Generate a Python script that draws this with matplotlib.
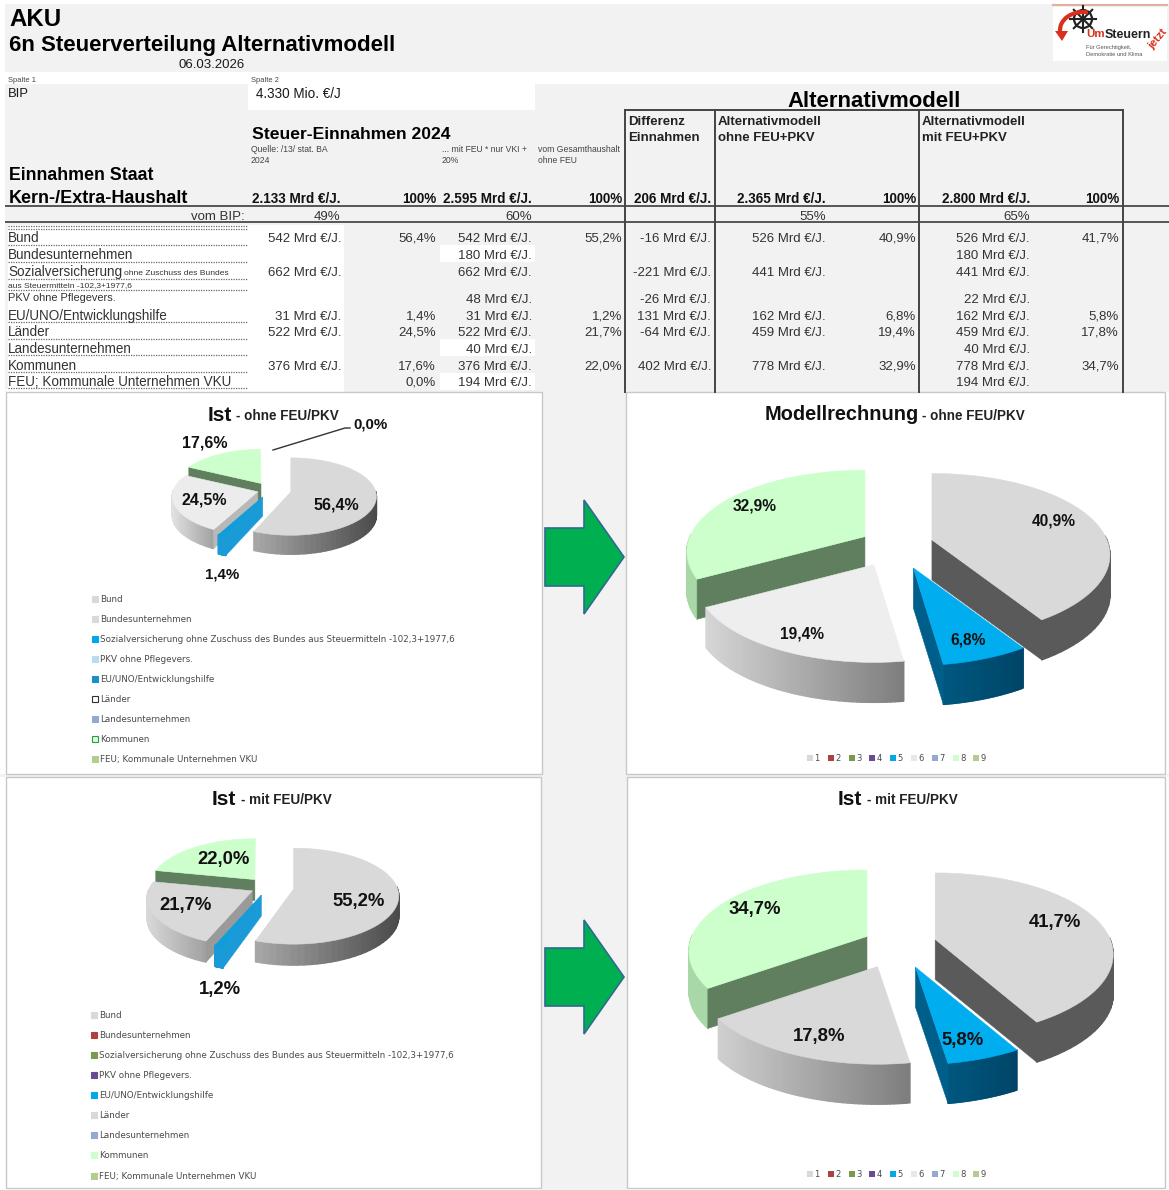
import numpy as np
import matplotlib
matplotlib.use("Agg")
import matplotlib.pyplot as plt
from matplotlib.colors import to_rgb
from matplotlib.patches import Rectangle, Polygon, Circle, Arc
from matplotlib.collections import PolyCollection

# table data
ROW_LABELS = ["Bund", "Bundesunternehmen", "Sozialversicherung", "PKV ohne Pflegevers.",
              "EU/UNO/Entwicklungshilfe", "Länder", "Landesunternehmen", "Kommunen",
              "FEU; Kommunale Unternehmen VKU"]
IST_MRD = ["542 Mrd €/J.", "", "662 Mrd €/J.", "", "31 Mrd €/J.", "522 Mrd €/J.", "", "376 Mrd €/J.", ""]
IST_PCT = ["56,4%", "", "", "", "1,4%", "24,5%", "", "17,6%", "0,0%"]
FEU_MRD = ["542 Mrd €/J.", "180 Mrd €/J.", "662 Mrd €/J.", "48 Mrd €/J.", "31 Mrd €/J.",
           "522 Mrd €/J.", "40 Mrd €/J.", "376 Mrd €/J.", "194 Mrd €/J."]
FEU_PCT = ["55,2%", "", "", "", "1,2%", "21,7%", "", "22,0%", ""]
DIFF_MRD = ["-16 Mrd €/J.", "", "-221 Mrd €/J.", "-26 Mrd €/J.", "131 Mrd €/J.",
            "-64 Mrd €/J.", "", "402 Mrd €/J.", ""]
ALT1_MRD = ["526 Mrd €/J.", "", "441 Mrd €/J.", "", "162 Mrd €/J.", "459 Mrd €/J.", "", "778 Mrd €/J.", ""]
ALT1_PCT = ["40,9%", "", "", "", "6,8%", "19,4%", "", "32,9%", ""]
ALT2_MRD = ["526 Mrd €/J.", "180 Mrd €/J.", "441 Mrd €/J.", "22 Mrd €/J.", "162 Mrd €/J.",
            "459 Mrd €/J.", "40 Mrd €/J.", "778 Mrd €/J.", "194 Mrd €/J."]
ALT2_PCT = ["41,7%", "", "", "", "5,8%", "17,8%", "", "34,7%", ""]

# pie shares, clockwise from 12 o'clock
PIE_NAMES = ["Bund", "EU", "Länder", "Kommunen"]
IST_OHNE = [56.4, 1.4, 24.5, 17.6]
MODELL_OHNE = [40.9, 6.8, 19.4, 32.9]
IST_MIT = [55.2, 1.2, 21.7, 22.0]
MODELL_MIT = [41.7, 5.8, 17.8, 34.7]

LEGEND_NAMES = ["Bund", "Bundesunternehmen",
                "Sozialversicherung ohne Zuschuss des Bundes aus Steuermitteln -102,3+1977,6",
                "PKV ohne Pflegevers.", "EU/UNO/Entwicklungshilfe", "Länder",
                "Landesunternehmen", "Kommunen", "FEU; Kommunale Unternehmen VKU"]
LEGEND_NUMS = ["1", "2", "3", "4", "5", "6", "7", "8", "9"]

GRAY = "#f2f2f2"
SANS = "Liberation Sans"

W, H = 1169, 1190
fig = plt.figure(figsize=(W / 100, H / 100), dpi=100, facecolor="white")
ax = fig.add_axes([0, 0, 1, 1])
ax.set_xlim(0, W)
ax.set_ylim(H, 0)
ax.axis("off")


def txt(x, y, s, size=13, bold=False, ha="left", color="#1a1a1a", family=SANS, zorder=8, **kw):
    # y is the middle of the capitals, size is in pixels
    return ax.text(x, y + size * 0.36, s, fontsize=size * 0.72, fontweight="bold" if bold else "normal",
                   ha=ha, va="baseline", color=color, family=family, zorder=zorder, **kw)


def box(x0, y0, x1, y1, color, edge="none", lw=0, zorder=1):
    ax.add_patch(Rectangle((x0, y0), x1 - x0, y1 - y0, facecolor=color, edgecolor=edge, lw=lw, zorder=zorder))


def pie3d(shares, names, cx, cy, R, ry, depth, explode, styles, persp=0.14):
    def rim(a):
        u, v = np.sin(a), np.cos(a)
        f = 1 - persp * v
        return R * u * f, -ry * v * f

    starts = np.cumsum([0] + list(shares[:-1])) * 3.6
    order = sorted(range(len(shares)), key=lambda i: -np.cos(np.radians(starts[i] + shares[i] * 1.8)))
    for i in order:
        a0, a1 = np.radians(starts[i]), np.radians(starts[i] + shares[i] * 3.6)
        mid = (a0 + a1) / 2
        ox = cx + explode[i] * R * np.sin(mid)
        oy = cy - explode[i] * ry * np.cos(mid)
        st = styles[names[i]]
        ang = np.linspace(a0, a1, 60)
        xs, ys = rim(ang)
        xs, ys = xs + ox, ys + oy

        # outer wall, shaded from left to right
        quads, cols = [], []
        c0, c1 = np.array(to_rgb(st["wall"][0])), np.array(to_rgb(st["wall"][1]))
        span = max(xs.max() - xs.min(), 1)
        for k in range(len(ang) - 1):
            if np.cos((ang[k] + ang[k + 1]) / 2) < 0.03:
                quads.append([(xs[k], ys[k]), (xs[k + 1], ys[k + 1]),
                              (xs[k + 1], ys[k + 1] + depth), (xs[k], ys[k] + depth)])
                t = ((xs[k] + xs[k + 1]) / 2 - xs.min()) / span
                cols.append(c0 + (c1 - c0) * t)
        if quads:
            ax.add_collection(PolyCollection(quads, facecolors=cols, edgecolors=cols, linewidths=1.0, zorder=3))

        # cut faces that look towards the viewer
        for ex, ey, sign in [(xs[0], ys[0], 1), (xs[-1], ys[-1], -1)]:
            if sign * (ex - ox) < -1:
                ax.add_patch(Polygon([(ox, oy), (ex, ey), (ex, ey + depth), (ox, oy + depth)],
                                     facecolor=st["face"], edgecolor=st["face"], lw=0.4, zorder=3))

        pts = [(ox, oy)] + list(zip(xs, ys))
        ax.add_patch(Polygon(pts, facecolor=st["top"], edgecolor=st["top"], lw=0.4, zorder=4))


def legend_rows(x_sw, x_txt, ys, colors, edges=None):
    for i, name in enumerate(LEGEND_NAMES):
        e = edges[i] if edges else colors[i]
        box(x_sw, ys[i] - 3, x_sw + 6, ys[i] + 3, colors[i], edge=e, lw=0.8, zorder=5)
        txt(x_txt, ys[i], name, size=8.8, color="#4a4a4a", family="DejaVu Sans")


def num_legend(y, colors):
    xs = np.arange(9) * 20.8 + 808
    for i, n in enumerate(LEGEND_NUMS):
        box(xs[i] - 1, y - 3, xs[i] + 5, y + 3, colors[i], zorder=5)
        txt(xs[i] + 9, y, n, size=8.4, color="#4a4a4a", family="DejaVu Sans", ha="center")


# page background
box(5, 4, W, 72, GRAY)
box(5, 84, W, 392, GRAY)
box(248, 84, 535, 110, "white")
box(541, 392, 627, H, GRAY)
box(0, 774, W, 777, GRAY)

# header
txt(9, 17, "AKU", size=24, bold=True, color="black")
txt(9, 43, "6n Steuerverteilung Alternativmodell", size=22.3, bold=True, color="black")
txt(245, 63, "06.03.2026", size=13.3, ha="right")
txt(8, 79, "Spalte 1", size=7.5, color="#444444")
txt(251, 79, "Spalte 2", size=7.5, color="#444444")
txt(8, 92, "BIP", size=13)
txt(256, 93, "4.330 Mio. €/J", size=13.5)

# logo
box(1053, 7, 1167, 61, "white", zorder=2)
ax.plot([1053, 1167], [5, 5], color="#e0b0a0", lw=1.5, zorder=2)
ax.add_patch(Circle((1083, 19), 9, fill=False, ec="#222222", lw=1.6, zorder=3))
for a in np.radians(np.arange(0, 180, 45)):
    ax.plot([1083 - 13 * np.cos(a), 1083 + 13 * np.cos(a)], [19 - 13 * np.sin(a), 19 + 13 * np.sin(a)],
            color="#222222", lw=1.5, zorder=3)
ax.add_patch(Arc((1083, 30), 46, 36, theta1=175, theta2=285, ec="#d8301c", lw=3, zorder=4))
ax.add_patch(Polygon([(1055, 31), (1068, 31), (1062, 41)], fc="#d8301c", zorder=4))
txt(1086, 33, "Um", size=11.5, bold=True, color="#d8301c")
txt(1105, 33, "Steuern", size=12.5, bold=True, color="#222222")
txt(1158, 45, "jetzt", size=11.5, bold=True, color="#d8301c", rotation=50, ha="center")
txt(1086, 47, "Für Gerechtigkeit,", size=5.8, color="#555555")
txt(1086, 54, "Demokratie und Klima", size=5.8, color="#555555")

# table shading
box(8, 225, 344, 392, "white")
box(440, 245, 535, 262, "white")
box(440, 339, 535, 356, "white")
box(440, 373, 535, 390, "white")
box(0, 72, W, 84, "white")
box(6, 389, 344, 392, "white")

txt(874, 99, "Alternativmodell", size=22.2, bold=True, ha="center", color="black")
txt(252, 133, "Steuer-Einnahmen 2024", size=17.5, bold=True, color="black")
txt(9, 174, "Einnahmen Staat", size=17.7, bold=True, color="black")
txt(9, 197, "Kern-/Extra-Haushalt", size=18, bold=True, color="black")

for x, y, s in [(251, 149, "Quelle: /13/ stat. BA"), (251, 160, "2024"),
                (442, 149, "... mit FEU * nur VKI +"), (442, 160, "20%"),
                (538, 149, "vom Gesamthaushalt"), (538, 160, "ohne FEU")]:
    txt(x, y, s, size=8.6, color="#444444")

txt(628, 120, "Differenz", size=13.2, bold=True, color="#222222")
txt(628, 136, "Einnahmen", size=13.2, bold=True, color="#222222")
txt(718, 120, "Alternativmodell", size=13.2, bold=True, color="#222222")
txt(718, 136, "ohne FEU+PKV", size=13.2, bold=True, color="#222222")
txt(922, 120, "Alternativmodell", size=13.2, bold=True, color="#222222")
txt(922, 136, "mit FEU+PKV", size=13.2, bold=True, color="#222222")

for x, s in [(341, "2.133 Mrd €/J."), (436, "100%"), (532, "2.595 Mrd €/J."), (622, "100%"),
             (711, "206 Mrd €/J."), (826, "2.365 Mrd €/J."), (916, "100%"),
             (1030, "2.800 Mrd €/J."), (1119, "100%")]:
    txt(x, 198, s, size=13.5, bold=True, ha="right", color="#111111")
txt(245, 215, "vom BIP:", size=13.3, ha="right", color="#333333")
for x, s in [(340, "49%"), (532, "60%"), (826, "55%"), (1030, "65%")]:
    txt(x, 215, s, size=13.3, ha="right", color="#333333")

ax.plot([6, W], [206, 206], color="#555555", lw=1.4, zorder=6)
ax.plot([6, W], [222, 222], color="#555555", lw=1.4, zorder=6)
ax.plot([625, 1123], [110, 110], color="#444444", lw=1.4, zorder=6)
for x in [625, 715, 919, 1123]:
    ax.plot([x, x], [110, 392], color="#444444", lw=1.4, zorder=6)

# table rows
ROW_Y = [237, 254, 271, 298, 315, 331, 348, 365, 381]
for y in [226, 229, 245, 262, 279, 290, 322, 339, 355, 372, 388]:
    ax.plot([8, 248], [y, y], color="#666666", lw=0.9, ls=(0, (1, 1)), zorder=6)
for i, y in enumerate(ROW_Y):
    label_y = y + {3: -1}.get(i, 0)
    txt(8, label_y, ROW_LABELS[i], size=11 if i == 3 else 13.5, color="#333333")
    for x, col in [(341, IST_MRD), (436, IST_PCT), (532, FEU_MRD), (622, FEU_PCT), (711, DIFF_MRD),
                   (826, ALT1_MRD), (916, ALT1_PCT), (1030, ALT2_MRD), (1119, ALT2_PCT)]:
        if col[i]:
            txt(x, y, col[i], size=13.3, ha="right", color="#333333")
txt(124, 272, "ohne Zuschuss des Bundes", size=8.5, color="#333333")
txt(8, 284, "aus Steuermitteln -102,3+1977,6", size=8.5, color="#333333")

# chart panels
for x0, y0, x1, y1 in [(6, 392, 542, 774), (626, 392, 1165, 774), (6, 777, 541, H - 2), (627, 777, 1165, H - 2)]:
    box(x0, y0, x1, y1, "white", edge="#c8c8c8", lw=1.0, zorder=2)

STYLE_LEFT_1 = {
    "Bund": dict(top="#d9d9d9", wall=("#a8a8a8", "#4a4a4a"), face="#555555"),
    "EU": dict(top="#0f9ddb", wall=("#1a9ad6", "#1a9ad6"), face="#1a9ad6"),
    "Länder": dict(top="#ececec", wall=("#e0e0e0", "#a0a0a0"), face="#b8b8b8"),
    "Kommunen": dict(top="#ccffcc", wall=("#a8d8a8", "#a8d8a8"), face="#5f7f5f"),
}
STYLE_LEFT_2 = dict(STYLE_LEFT_1)
STYLE_LEFT_2["Länder"] = dict(top="#d9d9d9", wall=("#d8d8d8", "#a0a0a0"), face="#9a9a9a")
STYLE_RIGHT_1 = {
    "Bund": dict(top="#d9d9d9", wall=("#5a5a5a", "#5a5a5a"), face="#5a5a5a"),
    "EU": dict(top="#00adef", wall=("#00577f", "#004568"), face="#005f8a"),
    "Länder": dict(top="#eeeeee", wall=("#d6d6d6", "#7d7d7d"), face="#aaaaaa"),
    "Kommunen": dict(top="#ccffcc", wall=("#a8d8a8", "#a8d8a8"), face="#5f7f5f"),
}
STYLE_RIGHT_2 = dict(STYLE_RIGHT_1)
STYLE_RIGHT_2["Länder"] = dict(top="#d9d9d9", wall=("#cfcfcf", "#7d7d7d"), face="#aaaaaa")

pie3d(IST_OHNE, PIE_NAMES, 270, 490, 85, 38.7, 19, [0.25, 0.2, 0.15, 0.2], STYLE_LEFT_1, persp=0.12)
pie3d(MODELL_OHNE, PIE_NAMES, 895, 545, 175, 82, 40, [0.22, 0.3, 0.27, 0.2], STYLE_RIGHT_1, persp=0.19)
pie3d(IST_MIT, PIE_NAMES, 268, 887, 104, 48, 21, [0.25, 0.18, 0.17, 0.2], STYLE_LEFT_2, persp=0.15)
pie3d(MODELL_MIT, PIE_NAMES, 898, 944, 175, 82, 40, [0.22, 0.3, 0.3, 0.2], STYLE_RIGHT_2, persp=0.19)

# titles
txt(208, 413, "Ist", size=21, bold=True, color="#111111", zorder=9)
txt(236, 415, "- ohne FEU/PKV", size=13.5, bold=True, color="#222222", zorder=9)
txt(765, 413, "Modellrechnung", size=20, bold=True, color="#111111", zorder=9)
txt(922, 415, "- ohne FEU/PKV", size=13.5, bold=True, color="#222222", zorder=9)
txt(212, 797, "Ist", size=21, bold=True, color="#111111", zorder=9)
txt(241, 799, "- mit FEU/PKV", size=13.5, bold=True, color="#222222", zorder=9)
txt(838, 797, "Ist", size=21, bold=True, color="#111111", zorder=9)
txt(867, 799, "- mit FEU/PKV", size=13.5, bold=True, color="#222222", zorder=9)

# pie labels
for x, y, s, size in [(336, 504, IST_PCT[0], 16), (204, 499, IST_PCT[5], 16), (205, 442, IST_PCT[7], 16),
                      (222, 573, IST_PCT[4], 15), (370, 423, IST_PCT[8], 15),
                      (1054, 520, ALT1_PCT[0], 15.5), (968, 639, ALT1_PCT[4], 15.5),
                      (802, 633, ALT1_PCT[5], 15.5), (755, 505, ALT1_PCT[7], 15.5),
                      (359, 899, FEU_PCT[0], 18.5), (186, 903, FEU_PCT[5], 18.5),
                      (224, 857, FEU_PCT[7], 18.5), (220, 987, FEU_PCT[4], 18.5),
                      (1055, 920, ALT2_PCT[0], 18.5), (963, 1038, ALT2_PCT[4], 18.5),
                      (819, 1034, ALT2_PCT[5], 18.5), (755, 907, ALT2_PCT[7], 18.5)]:
    txt(x, y, s, size=size, bold=True, ha="center", color="#111111", zorder=9)
ax.plot([273, 345, 350], [450, 428, 428], color="#333333", lw=1, zorder=9)

# legends
IST1_SW = ["#d9d9d9", "#d9d9d9", "#00a8e8", "#b7dcee", "#1a8fc4", "white", "#95a8d0", "#d8ffd8", "#b4cc90"]
IST1_ED = ["#d9d9d9", "#d9d9d9", "#00a8e8", "#b7dcee", "#1a8fc4", "#333333", "#95a8d0", "#2a9a4a", "#b4cc90"]
IST2_SW = ["#d9d9d9", "#b04040", "#7a9a50", "#6a4a90", "#00a8e8", "#d9d9d9", "#95a8d0", "#ccffcc", "#b4cc90"]
NUM_SW = ["#d9d9d9", "#b04040", "#7a9a50", "#6a4a90", "#00a8e8", "#e8e8e8", "#95a8d0", "#ccffcc", "#b4cc90"]
legend_rows(92, 100, [599, 619, 639, 659, 679, 699, 719, 739, 759], IST1_SW, IST1_ED)
legend_rows(91, 99, [1015, 1035, 1055, 1075, 1095, 1115, 1135, 1155, 1176], IST2_SW)
num_legend(758, NUM_SW)
num_legend(1174, NUM_SW)

# green arrows
for yc in [557, 977]:
    ax.add_patch(Polygon([(545, yc - 29), (584, yc - 29), (584, yc - 57), (624, yc), (584, yc + 57),
                          (584, yc + 29), (545, yc + 29)], facecolor="#00b050", edgecolor="#2f6a8f",
                         lw=1.2, zorder=5))

fig.savefig("out.png", dpi=100)
